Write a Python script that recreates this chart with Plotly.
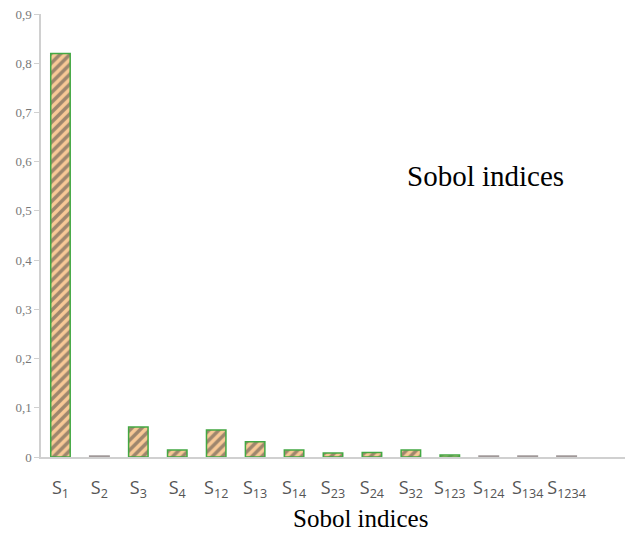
import plotly.graph_objects as go

categories = ["S1", "S2", "S3", "S4", "S12", "S13", "S14", "S23", "S24", "S32",
              "S123", "S124", "S134", "S1234"]
tick_labels = ["S<sub>1</sub>", "S<sub>2</sub>", "S<sub>3</sub>", "S<sub>4</sub>",
               "S<sub>12</sub>", "S<sub>13</sub>", "S<sub>14</sub>", "S<sub>23</sub>",
               "S<sub>24</sub>", "S<sub>32</sub>", "S<sub>123</sub>", "S<sub>124</sub>",
               "S<sub>134</sub>", "S<sub>1234</sub>"]
values = [0.82, 0.002, 0.061, 0.014, 0.055, 0.031, 0.014, 0.008, 0.009, 0.014,
          0.004, 0.002, 0.002, 0.002]
y_tickvals = [0, 0.1, 0.2, 0.3, 0.4, 0.5, 0.6, 0.7, 0.8, 0.9]
y_ticktext = ["0", "0,1", "0,2", "0,3", "0,4", "0,5", "0,6", "0,7", "0,8", "0,9"]

near_zero = [v <= 0.002 for v in values]
line_colors = ["#a09898" if z else "#43a843" for z in near_zero]
fill_colors = ["#a09898" if z else "#f8c996" for z in near_zero]

x_pos = list(range(len(categories)))

fig = go.Figure()
fig.add_trace(go.Bar(
    x=x_pos, y=values, width=0.5,
    marker=dict(
        color=fill_colors,
        line=dict(color=line_colors, width=1.5),
        pattern=dict(shape="/", fgcolor="#4e6a22", bgcolor="#f8c996",
                     size=7, solidity=0.5, fillmode="overlay"),
    ),
    hoverinfo="x+y",
))

fig.update_layout(
    width=625, height=525,
    margin=dict(l=33, r=8, t=6, b=76, autoexpand=False),
    paper_bgcolor="white", plot_bgcolor="white",
    showlegend=False,
    xaxis=dict(
        range=[-0.5, 14.5], tickvals=x_pos, ticktext=tick_labels,
        showgrid=False, zeroline=False, showline=True, linecolor="#d0d0d0",
        linewidth=1.5, ticks="", ticklabelstandoff=14, automargin=False,
        tickangle=0,
        tickfont=dict(family="Open Sans", size=18, color="#555555"),
    ),
    yaxis=dict(
        range=[0, 0.9], tickvals=y_tickvals, ticktext=y_ticktext,
        showgrid=False, zeroline=False, showline=True, linecolor="#d0d0d0",
        linewidth=1.5, ticks="outside", ticklen=5, tickcolor="#d0d0d0",
        automargin=False, ticklabeloverflow="allow",
        tickfont=dict(family="Liberation Serif", size=13, color="#787878"),
    ),
    annotations=[
        dict(text="Sobol indices", x=0.623, y=0.634, xref="paper", yref="paper",
             xanchor="left", yanchor="middle", showarrow=False,
             font=dict(family="Liberation Serif", size=29, color="black")),
        dict(text="Sobol indices", x=0.547, y=-0.138, xref="paper", yref="paper",
             xanchor="center", yanchor="middle", showarrow=False,
             font=dict(family="Liberation Serif", size=25, color="black")),
    ],
)

fig.write_html("out.html")
